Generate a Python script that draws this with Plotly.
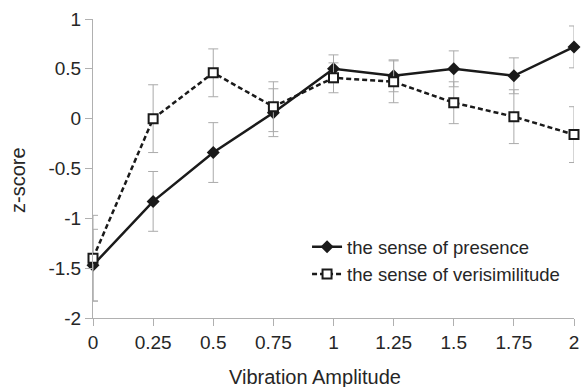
import plotly.graph_objects as go

amplitude = [0, 0.25, 0.5, 0.75, 1, 1.25, 1.5, 1.75, 2]
presence = [-1.47, -0.83, -0.34, 0.06, 0.50, 0.43, 0.50, 0.43, 0.72]
presence_err = [0.36, 0.30, 0.30, 0.24, 0.14, 0.16, 0.18, 0.18, 0.21]
verisimilitude = [-1.40, 0.00, 0.46, 0.12, 0.41, 0.37, 0.16, 0.02, -0.16]
verisimilitude_err = [0.43, 0.34, 0.24, 0.25, 0.15, 0.21, 0.21, 0.27, 0.28]
x_ticks = [0, 0.25, 0.5, 0.75, 1, 1.25, 1.5, 1.75, 2]
x_tick_labels = ["0", "0.25", "0.5", "0.75", "1", "1.25", "1.5", "1.75", "2"]
y_ticks = [-2, -1.5, -1, -0.5, 0, 0.5, 1]
y_tick_labels = ["-2", "-1.5", "-1", "-0.5", "0", "0.5", "1"]
x_title = "Vibration Amplitude"
y_title = "z-score"

FONT = "Liberation Sans, Arial, sans-serif"
TXT = "#262626"

fig = go.Figure()
fig.add_trace(go.Scatter(
    x=amplitude, y=presence, name="the sense of presence",
    mode="lines+markers",
    line=dict(color="#1a1a1a", width=2.5),
    marker=dict(symbol="diamond", size=10, color="#1a1a1a"),
    error_y=dict(type="data", array=presence_err, visible=True,
                 color="#aaaaaa", thickness=1, width=5),
    cliponaxis=False,
))
fig.add_trace(go.Scatter(
    x=amplitude, y=verisimilitude, name="the sense of verisimilitude",
    mode="lines+markers",
    line=dict(color="#1a1a1a", width=2.5, dash="5px,3px"),
    marker=dict(symbol="square", size=9, color="white",
                line=dict(color="#1a1a1a", width=2)),
    error_y=dict(type="data", array=verisimilitude_err, visible=True,
                 color="#aaaaaa", thickness=1, width=5),
    cliponaxis=False,
))

fig.update_layout(
    width=581, height=387,
    margin=dict(l=93, r=7, t=19, b=69, autoexpand=False),
    paper_bgcolor="white", plot_bgcolor="white",
    font=dict(family=FONT, size=19, color=TXT),
    showlegend=True,
    legend=dict(x=0.445, y=0.30, xanchor="left", yanchor="top",
                bgcolor="rgba(0,0,0,0)", font=dict(size=18.5, color=TXT),
                itemwidth=30, tracegroupgap=0),
    xaxis=dict(range=[0, 2], tickvals=x_ticks, ticktext=x_tick_labels,
               showgrid=False, zeroline=False, showline=True,
               linecolor="#b0b0b0", linewidth=1, ticks="outside",
               ticklen=7, tickcolor="#b0b0b0", automargin=False,
               ticklabeloverflow="allow"),
    yaxis=dict(range=[-2, 1], tickvals=y_ticks, ticktext=y_tick_labels,
               showgrid=False, zeroline=False, showline=True,
               linecolor="#b0b0b0", linewidth=1, ticks="outside",
               ticklen=7, tickcolor="#b0b0b0", automargin=False,
               ticklabeloverflow="allow"),
    annotations=[
        dict(text=x_title, xref="paper", yref="paper", x=0.4615, y=-0.197,
             xanchor="center", yanchor="middle", showarrow=False,
             font=dict(size=20, color=TXT)),
        dict(text=y_title, xref="paper", yref="paper", x=-0.156, y=0.4615,
             xanchor="center", yanchor="middle", showarrow=False,
             textangle=-90, font=dict(size=20, color=TXT)),
    ],
)

fig.write_html("out.html", config={"displayModeBar": False},
               post_script="document.body.style.margin='0';document.body.style.overflow='hidden';")
